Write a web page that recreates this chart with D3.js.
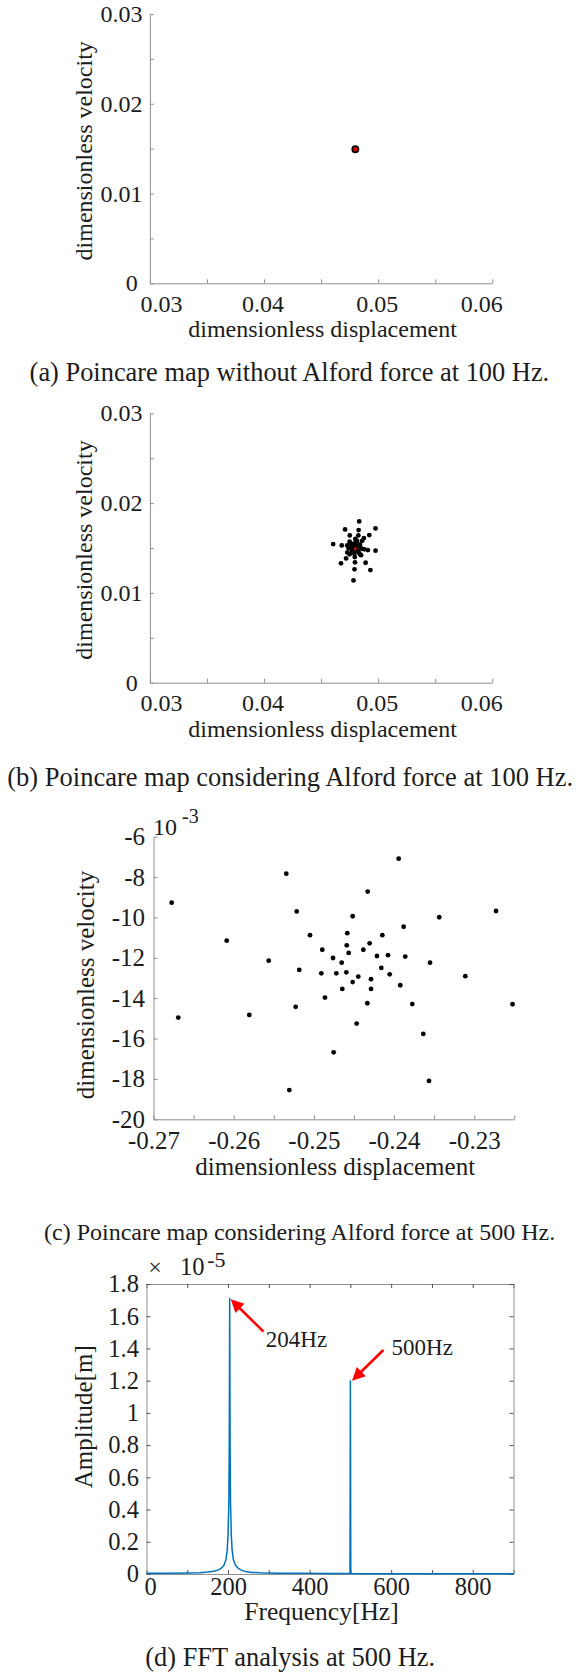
<!DOCTYPE html>
<html>
<head>
<meta charset="utf-8">
<script src="https://cdn.jsdelivr.net/npm/d3@7"></script>
<style>
  html, body { margin: 0; padding: 0; background: #fff; }
  svg { display: block; }
</style>
</head>
<body>
<svg id="fig" width="576" height="1675"></svg>
<script>
// ---------- data ----------
// (a) Poincare map without Alford force, 100 Hz: a single fixed point
const mapADisp = [0.0480];
const mapAVel  = [0.01493];

// (b) Poincare map with Alford force, 100 Hz: star-shaped cloud around the fixed point
const mapBDisp = [0.04834, 0.04710, 0.04829, 0.04977, 0.04751, 0.04826, 0.04922, 0.04606, 0.04681, 0.04729,
                  0.04977, 0.04910, 0.04719, 0.04674, 0.04797, 0.04890, 0.04793, 0.04932, 0.04784,
                  0.04800, 0.04800, 0.04810, 0.04750, 0.04770, 0.04860, 0.04840, 0.04740, 0.04770, 0.04860,
                  0.04750, 0.04770, 0.04790, 0.04850, 0.04830, 0.04780, 0.04820, 0.04800,
                  0.04805, 0.04762, 0.04845, 0.04880, 0.04760, 0.04840, 0.04795, 0.04815, 0.04875, 0.04730];
const mapBVel  = [0.01796, 0.01707, 0.01700, 0.01718, 0.01640, 0.01640, 0.01644, 0.01544, 0.01529, 0.01529,
                  0.01470, 0.01477, 0.01384, 0.01329, 0.01340, 0.01336, 0.01262, 0.01254, 0.01139,
                  0.01600, 0.01560, 0.01530, 0.01570, 0.01540, 0.01580, 0.01540, 0.01500, 0.01500, 0.01490,
                  0.01430, 0.01460, 0.01440, 0.01420, 0.01450, 0.01520, 0.01470, 0.01490,
                  0.01510, 0.01495, 0.01505, 0.01485, 0.01550, 0.01430, 0.01400, 0.01580, 0.01610, 0.01450];
const mapBCentre = [0.0480, 0.01493];

// (c) Poincare map with Alford force, 500 Hz (velocity in units of 1e-3)
const mapCDisp = [-0.26773, -0.25344, -0.23942, -0.25214, -0.24329, -0.24516, -0.23436, -0.23880, -0.26087, -0.25048,
                  -0.24583, -0.24146, -0.24304, -0.24590, -0.24895, -0.24383, -0.24566, -0.24761, -0.24213, -0.24075,
                  -0.23860, -0.25563, -0.24653, -0.23551, -0.25182, -0.24907, -0.24720, -0.24595, -0.24446, -0.24159,
                  -0.24054, -0.23111, -0.24516, -0.24287, -0.23922, -0.24645, -0.24287, -0.24861, -0.25227, -0.24333,
                  -0.23772, -0.26691, -0.25805, -0.24466, -0.23635, -0.24753, -0.25306, -0.23564, -0.22522, -0.22728];
const mapCVel  = [-9.27, -7.83, -7.09, -9.70, -8.72, -9.94, -9.99, -10.46, -11.15, -10.88,
                  -10.78, -10.88, -11.28, -11.38, -11.60, -11.60, -11.76, -12.01, -11.91, -11.87,
                  -11.94, -12.14, -12.24, -12.24, -12.60, -12.77, -12.77, -12.72, -12.93, -12.50,
                  -12.82, -12.91, -13.20, -13.06, -13.36, -13.54, -13.54, -13.97, -14.43, -14.25,
                  -14.29, -14.96, -14.83, -15.26, -15.77, -16.68, -18.55, -18.10, -14.30, -9.68];

// (d) FFT amplitude spectrum at 500 Hz (amplitude in units of 1e-5 m)
const fftFreq = [0, 50, 100, 130, 150, 165, 175, 183, 190, 195, 198, 200, 202, 203, 204, 205, 206, 208, 210, 213,
                 218, 225, 233, 243, 258, 280, 320, 380, 450, 499, 500, 501, 550, 600, 700, 800, 900];
const fftAmp  = [0.004, 0.004, 0.006, 0.008, 0.012, 0.017, 0.024, 0.035, 0.055, 0.09, 0.15, 0.24, 0.45, 0.8, 1.71, 0.8,
                 0.45, 0.24, 0.15, 0.09, 0.055, 0.035, 0.024, 0.015, 0.010, 0.007, 0.005, 0.004, 0.003, 0.003, 1.2,
                 0.003, 0.002, 0.002, 0.002, 0.002, 0.002];
const peakNames   = ["204Hz", "500Hz"];
const peakTipFreq = [206.6, 504];
const peakTipAmp  = [1.705, 1.20];
const peakTailFreq = [287, 581];
const peakTailAmp  = [1.504, 1.39];
const peakTextFreq = [292.5, 601];
const peakTextAmp  = [1.412, 1.359];

// tick values
const xMinorAB = [0.03, 0.035, 0.04, 0.045, 0.05, 0.055, 0.06];
const xLabelAB = [0.03, 0.04, 0.05, 0.06];
const yMinorAB = [0, 0.005, 0.01, 0.015, 0.02, 0.025, 0.03];
const yLabelAB = [0, 0.01, 0.02, 0.03];
const xMinorC  = [-0.27, -0.265, -0.26, -0.255, -0.25, -0.245, -0.24, -0.235, -0.23, -0.225];
const xLabelC  = [-0.27, -0.26, -0.25, -0.24, -0.23];
const yLabelC  = [-20, -18, -16, -14, -12, -10, -8, -6];
const xMinorD  = [0, 100, 200, 300, 400, 500, 600, 700, 800, 900];
const xLabelD  = [0, 200, 400, 600, 800];
const yLabelD  = [0, 0.2, 0.4, 0.6, 0.8, 1, 1.2, 1.4, 1.6, 1.8];

const captions = [
  "(a) Poincare map without Alford force at 100 Hz.",
  "(b) Poincare map considering Alford force at 100 Hz.",
  "(c) Poincare map considering Alford force at 500 Hz.",
  "(d) FFT analysis at 500 Hz."
];

// ---------- drawing ----------
const svg = d3.select("#fig");
svg.append("rect").attr("width", 576).attr("height", 1675).attr("fill", "#fff");

const SERIF = '"Liberation Serif", "Times New Roman", Times, serif';
const AXIS_GREY = "#8f8f8f";
const INK = "#1c1c1c";
const TICK = 4;

const has = (list, d) => list.some(v => Math.abs(v - d) < 1e-9);

function styleAxis(sel, size, tickColor) {
  sel.attr("font-family", SERIF).attr("font-size", size);
  sel.selectAll("path.domain").attr("stroke", AXIS_GREY).attr("stroke-width", 1);
  sel.selectAll(".tick line").attr("stroke", tickColor || AXIS_GREY);
  sel.selectAll(".tick text").attr("fill", INK);
}

function addText(txt, x, y, size, opts = {}) {
  const t = svg.append("text")
    .attr("x", x).attr("y", y)
    .attr("font-family", SERIF).attr("font-size", size)
    .attr("fill", INK)
    .attr("text-anchor", opts.anchor || "middle")
    .text(txt);
  if (opts.rotate) t.attr("transform", `rotate(-90, ${x}, ${y})`).attr("text-anchor", "middle");
  return t;
}

function buildScatterAxes(x, y, c) {
  const bottom = c.yRange[0];
  const left = c.xRange[0];
  const gx = svg.append("g").attr("transform", `translate(0,${bottom})`)
    .call(d3.axisBottom(x).tickValues(c.xMinor).tickSizeInner(-TICK).tickSizeOuter(0)
      .tickPadding(c.xPad).tickFormat(d => has(c.xLabel, d) ? c.xFmt(d) : ""));
  styleAxis(gx, c.font);
  const gy = svg.append("g").attr("transform", `translate(${left},0)`)
    .call(d3.axisLeft(y).tickValues(c.yMinor).tickSizeInner(-TICK).tickSizeOuter(0)
      .tickPadding(c.yPad).tickFormat(d => has(c.yLabel, d) ? c.yFmt(d) : ""));
  styleAxis(gy, c.font);
  return [gx, gy];
}

const fmt2 = d => d === 0 ? "0" : d.toFixed(2);

// --- (a) and (b) share the same frame ---
function panelAB(yTop, yBottom, disp, vel) {
  const c = {
    xRange: [149.9, 492.3], yRange: [yBottom, yTop],
    xMinor: xMinorAB, xLabel: xLabelAB, yMinor: yMinorAB, yLabel: yLabelAB,
    xFmt: fmt2, yFmt: fmt2, xPad: 11.2, yPad: 7.4, font: 24
  };
  const x = d3.scaleLinear().domain([0.03, 0.06]).range(c.xRange);
  const y = d3.scaleLinear().domain([0, 0.03]).range(c.yRange);
  const [gx, gy] = buildScatterAxes(x, y, c);
  gx.selectAll(".tick text").attr("dx", d => d === 0.03 ? 11 : d === 0.06 ? -11 : -1.5);
  gy.selectAll(".tick text").attr("dx", d => d === 0 ? -4.7 : 0);

  const pts = disp.map((d, i) => [d, vel[i]]);
  return { x, y, pts };
}

// (a)
{
  const p = panelAB(14, 283.3, mapADisp, mapAVel);
  svg.append("g").selectAll("circle").data(p.pts).join("circle")
    .attr("cx", d => p.x(d[0])).attr("cy", d => p.y(d[1]))
    .attr("r", 3.1).attr("fill", "#e00000").attr("stroke", "#000").attr("stroke-width", 1.7);
  addText("dimensionless displacement", 322.6, 336.5, 24);
  addText("dimensionless velocity", 92, 150.8, 24, { rotate: true });
  addText(captions[0], 289.4, 381, 26.4);
}

// (b)
{
  const p = panelAB(413.3, 682.7, mapBDisp, mapBVel);
  svg.append("g").selectAll("circle").data(p.pts).join("circle")
    .attr("cx", d => p.x(d[0])).attr("cy", d => p.y(d[1]))
    .attr("r", 2.4).attr("fill", "#000");
  svg.append("circle").attr("cx", p.x(mapBCentre[0])).attr("cy", p.y(mapBCentre[1]))
    .attr("r", 1.3).attr("fill", "#ff0000");
  addText("dimensionless displacement", 322.6, 737, 24);
  addText("dimensionless velocity", 92, 550, 24, { rotate: true });
  addText(captions[1], 290.2, 786, 26.5);
}

// (c)
{
  const c = {
    xRange: [153.5, 514.3], yRange: [1119.3, 836.7],
    xMinor: xMinorC, xLabel: xLabelC, yMinor: yLabelC, yLabel: yLabelC,
    xFmt: d => d.toFixed(2), yFmt: d => d.toFixed(0), xPad: 12.3, yPad: 8.5, font: 25
  };
  const x = d3.scaleLinear().domain([-0.27, -0.225]).range(c.xRange);
  const y = d3.scaleLinear().domain([-20, -6]).range(c.yRange);
  buildScatterAxes(x, y, c);
  const pts = mapCDisp.map((d, i) => [d, mapCVel[i]]);
  svg.append("g").selectAll("circle").data(pts).join("circle")
    .attr("cx", d => x(d[0])).attr("cy", d => y(d[1]))
    .attr("r", 2.4).attr("fill", "#000");
  // axis multiplier
  addText("10", 153, 835, 24, { anchor: "start" });
  addText("-3", 182, 823, 20, { anchor: "start" });
  addText("dimensionless displacement", 335.2, 1175, 25);
  addText("dimensionless velocity", 93.6, 985, 25, { rotate: true });
  addText(captions[2], 299.6, 1239.5, 24);
}

// (d)
{
  const xR = [146.5, 513.5], yR = [1574, 1284];
  const x = d3.scaleLinear().domain([0, 900]).range(xR);
  const y = d3.scaleLinear().domain([0, 1.8]).range(yR);
  const TICK_INK = "#505050";

  const gx = svg.append("g").attr("transform", `translate(0,${yR[0]})`)
    .call(d3.axisBottom(x).tickValues(xMinorD).tickSizeInner(-TICK).tickSizeOuter(0).tickPadding(3.5)
      .tickFormat(d => has(xLabelD, d) ? String(d) : ""));
  styleAxis(gx, 24.5, TICK_INK);
  gx.selectAll(".tick text").attr("dx", d => d === 0 ? 3.5 : 0);
  const gt = svg.append("g").attr("transform", `translate(0,${yR[1]})`)
    .call(d3.axisTop(x).tickValues(xMinorD).tickSizeInner(-TICK).tickSizeOuter(0).tickFormat(""));
  styleAxis(gt, 24.5, TICK_INK);
  const gy = svg.append("g").attr("transform", `translate(${xR[0]},0)`)
    .call(d3.axisLeft(y).tickValues(yLabelD).tickSizeInner(-TICK).tickSizeOuter(0).tickPadding(7.6)
      .tickFormat(d => String(+d.toFixed(1))));
  styleAxis(gy, 24.5, TICK_INK);
  const gr = svg.append("g").attr("transform", `translate(${xR[1]},0)`)
    .call(d3.axisRight(y).tickValues(yLabelD).tickSizeInner(-TICK).tickSizeOuter(0).tickFormat(""));
  styleAxis(gr, 24.5, TICK_INK);

  const line = d3.line().x((d, i) => x(fftFreq[i])).y(d => y(d));
  svg.append("path").datum(fftAmp)
    .attr("d", line).attr("fill", "none")
    .attr("stroke", "#0072BD").attr("stroke-width", 1.5).attr("stroke-linejoin", "round");

  // peak annotations
  const HEAD_L = 13, HEAD_W = 6.5;
  peakNames.forEach((name, i) => {
    const tx = x(peakTipFreq[i]), ty = y(peakTipAmp[i]);
    const sx = x(peakTailFreq[i]), sy = y(peakTailAmp[i]);
    const len = Math.hypot(tx - sx, ty - sy);
    const ux = (tx - sx) / len, uy = (ty - sy) / len;
    const bx = tx - ux * HEAD_L, by = ty - uy * HEAD_L;
    svg.append("line")
      .attr("x1", sx).attr("y1", sy).attr("x2", bx + ux * 1).attr("y2", by + uy * 1)
      .attr("stroke", "#ff0000").attr("stroke-width", 2.6);
    svg.append("polygon")
      .attr("points", [[tx, ty], [bx - uy * HEAD_W, by + ux * HEAD_W], [bx + uy * HEAD_W, by - ux * HEAD_W]]
        .map(p => p.join(",")).join(" "))
      .attr("fill", "#ff0000");
    addText(name, x(peakTextFreq[i]), y(peakTextAmp[i]), 23, { anchor: "start" });
  });

  // axis multiplier
  addText("\u00D7", 148.3, 1275, 24, { anchor: "start" });
  addText("10", 180, 1275, 24.5, { anchor: "start" });
  addText("-5", 207.3, 1266.5, 22, { anchor: "start" });

  addText("Frequency[Hz]", 321.5, 1620, 25.5);
  addText("Amplitude[m]", 92.5, 1416.7, 25, { rotate: true });
  addText(captions[3], 290.2, 1666, 26.4);
}
</script>
</body>
</html>
